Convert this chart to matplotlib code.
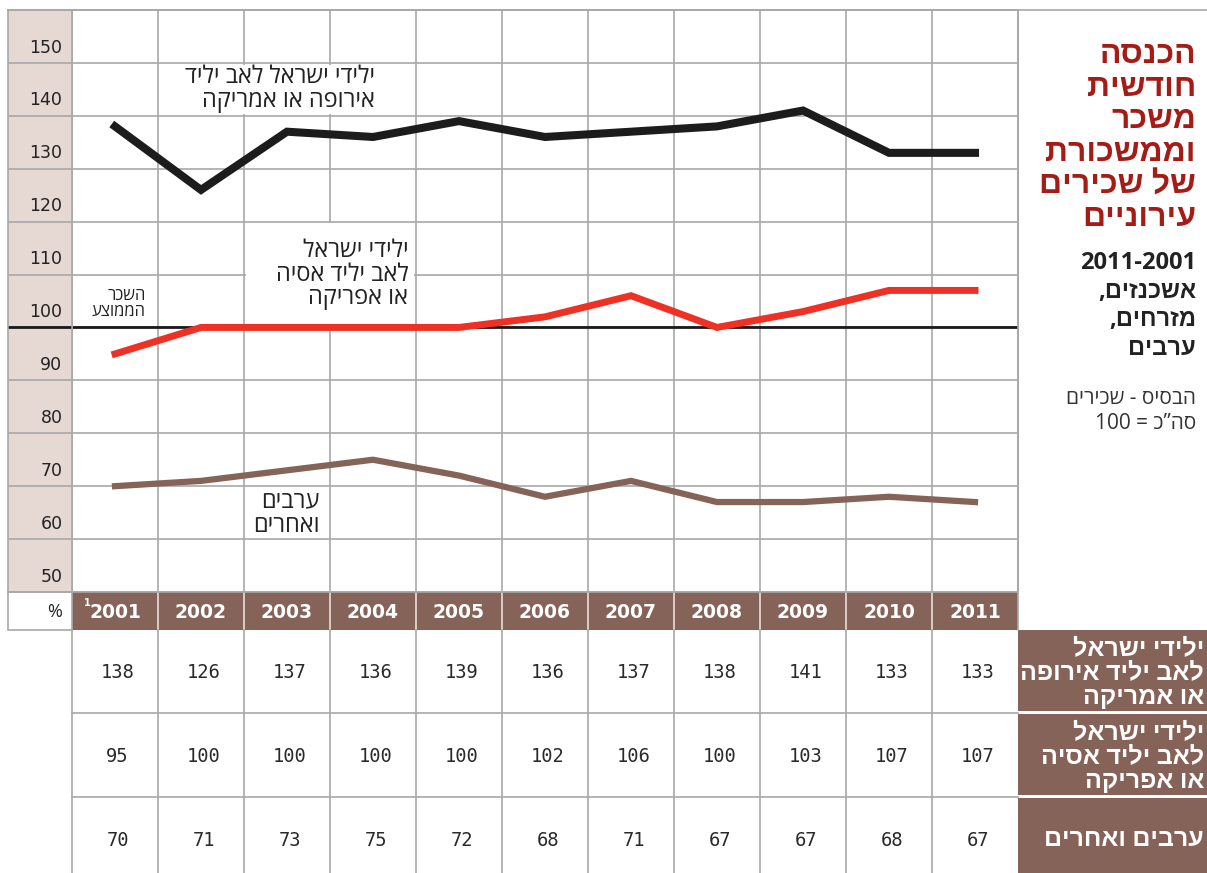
import matplotlib.pyplot as plt
from matplotlib.transforms import blended_transform_factory
from matplotlib.patches import Rectangle

plt.rcParams['font.family'] = ['Open Sans', 'Liberation Sans', 'DejaVu Sans']

# data
years = [2001, 2002, 2003, 2004, 2005, 2006, 2007, 2008, 2009, 2010, 2011]
europe_america = [138, 126, 137, 136, 139, 136, 137, 138, 141, 133, 133]
asia_africa = [95, 100, 100, 100, 100, 102, 106, 100, 103, 107, 107]
arabs_other = [70, 71, 73, 75, 72, 68, 71, 67, 67, 68, 67]
y_ticks = [50, 60, 70, 80, 90, 100, 110, 120, 130, 140, 150]


def heb(s):
    # matplotlib has no bidi support: write hebrew in visual order
    return s[::-1]


W, H = 1207, 873
BROWN = '#856358'
RED = '#ee3124'
BEIGE = '#e6d8d2'
GRID = '#a8a8a8'
TITLE_RED = '#a51c17'
TXT = '#222222'

fig = plt.figure(figsize=(W / 100, H / 100), dpi=100)

# background axes in pixel coordinates
bg = fig.add_axes([0, 0, 1, 1])
bg.set_xlim(0, W)
bg.set_ylim(H, 0)
bg.axis('off')

# main chart area
ax = fig.add_axes([72 / W, 1 - 592 / H, 946 / W, 582 / H])
ax.set_xlim(2000.5, 2011.5)
ax.set_ylim(50, 160)
ax.set_facecolor('none')
ax.set_xticks([y + 0.5 for y in years[:-1]])
ax.set_yticks(y_ticks + [160])
ax.tick_params(length=0, labelbottom=False, labelleft=False)
ax.grid(True, color=GRID, lw=1.2)
ax.set_axisbelow(True)
for s in ax.spines.values():
    s.set_color(GRID)
    s.set_linewidth(1.2)

# tick label column
tax = fig.add_axes([8 / W, 1 - 592 / H, 64 / W, 582 / H], sharey=ax)
tax.set_facecolor(BEIGE)
tax.tick_params(length=0, labelbottom=False, labelleft=False)
tax.set_xticks([])
tax.set_xlim(0, 1)
tax.grid(True, axis='y', color=GRID, lw=1.2)
for s in tax.spines.values():
    s.set_color(GRID)
    s.set_linewidth(1.2)
for v in y_ticks:
    tax.text(0.85, v + 1.2, str(v), ha='right', va='bottom', fontsize=12.5,
             color=TXT, family=['DejaVu Sans'])

# average line
ax.axhline(100, color='#1a1a1a', lw=2, zorder=2)
tax.axhline(100, color='#1a1a1a', lw=2, zorder=2)

ax.plot(years, europe_america, color='#1c1c1c', lw=5.8, zorder=3, solid_joinstyle='miter')
ax.plot(years, asia_africa, color=RED, lw=5, zorder=3, solid_joinstyle='miter')
ax.plot(years, arabs_other, color=BROWN, lw=4.5, zorder=3, solid_joinstyle='miter')

# white patches behind the labels hide the grid there
ax.add_patch(Rectangle((2001.9, 140.4), 2.4, 9.2, facecolor='white', edgecolor='none', zorder=1))
ax.add_patch(Rectangle((2002.52, 100.3), 1.96, 19.5, facecolor='white', edgecolor='none', zorder=1))

# labels inside chart
ax.text(2004.02, 145.0, heb('ילידי ישראל לאב יליד') + '\n' + heb('אירופה או אמריקה'),
        ha='right', va='center', fontsize=17, color=TXT, linespacing=1.0, zorder=4)
ax.text(2004.41, 110.0, heb('ילידי ישראל') + '\n' + heb('לאב יליד אסיה') + '\n' + heb('או אפריקה'),
        ha='right', va='center', fontsize=17, color=TXT, linespacing=0.97, zorder=4)
ax.text(2003.38, 64.8, heb('ערבים') + '\n' + heb('ואחרים'),
        ha='right', va='center', fontsize=17, color=TXT, linespacing=1.0, zorder=4)
ax.text(2001.36, 104.5, heb('השכר') + '\n' + heb('הממוצע'),
        ha='right', va='center', fontsize=12, color=TXT, linespacing=1.0, zorder=4)

# year header row
trans = blended_transform_factory(ax.transData, bg.transData)
bg.add_patch(Rectangle((72, 592), 946, 38, facecolor=BROWN, edgecolor='none'))
bg.add_patch(Rectangle((8, 592), 64, 38, facecolor='white', edgecolor=GRID, lw=1.2))
bg.text(62, 612, '%', ha='right', va='center', fontsize=13, color=TXT)
for y in years[:-1]:
    bg.plot([y + 0.5, y + 0.5], [592, 630], color='#eadfda', lw=1.2, transform=trans)
for y in years:
    bg.text(y, 612, str(y), ha='center', va='center', fontsize=13.5, color='white',
            fontweight='bold', family=['DejaVu Sans'], transform=trans)
bg.text(2000.68, 603, '1', ha='center', va='center', fontsize=7, color='white',
        fontweight='bold', family=['DejaVu Sans'], transform=trans)

# table
row_y = [673, 757, 840]
for y in years[:-1]:
    bg.plot([y + 0.5, y + 0.5], [630, 873], color=GRID, lw=1.2, transform=trans)
bg.plot([72, 72], [630, 873], color=GRID, lw=1.2)
bg.plot([1018, 1018], [10, 630], color=GRID, lw=1.2)
bg.plot([8, W], [10, 10], color=GRID, lw=1.2)
for yy in [713, 797]:
    bg.plot([72, 1018], [yy, yy], color=GRID, lw=1.2)
for series, ry in zip([europe_america, asia_africa, arabs_other], row_y):
    for y, v in zip(years, series):
        bg.text(y + 0.03, ry, str(v), ha='center', va='center', fontsize=13.5,
                color='#2a2a2a', family=['DejaVu Sans Mono'], transform=trans)

# row labels
row_boxes = [(630, 81), (714, 81), (798, 75)]
for top, h in row_boxes:
    bg.add_patch(Rectangle((1018, top), W - 1018, h, facecolor=BROWN, edgecolor='none'))
row_labels = [
    heb('ילידי ישראל') + '\n' + heb('לאב יליד אירופה') + '\n' + heb('או אמריקה'),
    heb('ילידי ישראל') + '\n' + heb('לאב יליד אסיה') + '\n' + heb('או אפריקה'),
    heb('ערבים ואחרים'),
]
for lab, ry in zip(row_labels, row_y):
    bg.text(1204, ry, lab, ha='right', va='center', fontsize=18, color='white',
            fontweight='bold', linespacing=0.95)

# title block
title = [heb(t) for t in ['הכנסה', 'חודשית', 'משכר', 'וממשכורת', 'של שכירים', 'עירוניים']]
bg.text(1196, 136, '\n'.join(title), ha='right', va='center', fontsize=23, color=TITLE_RED,
        fontweight='bold', linespacing=0.98)
sub = ['2011-2001', heb('אשכנזים,'), heb('מזרחים,'), heb('ערבים')]
bg.text(1196, 306, '\n'.join(sub), ha='right', va='center', fontsize=17, color=TXT,
        fontweight='bold', linespacing=1.26)
bg.text(1196, 411, heb('הבסיס - שכירים') + '\n' + '100 = ' + heb('סה”כ'),
        ha='right', va='center', fontsize=15, color='#333333', linespacing=1.24)

fig.savefig('out.png', dpi=100)
